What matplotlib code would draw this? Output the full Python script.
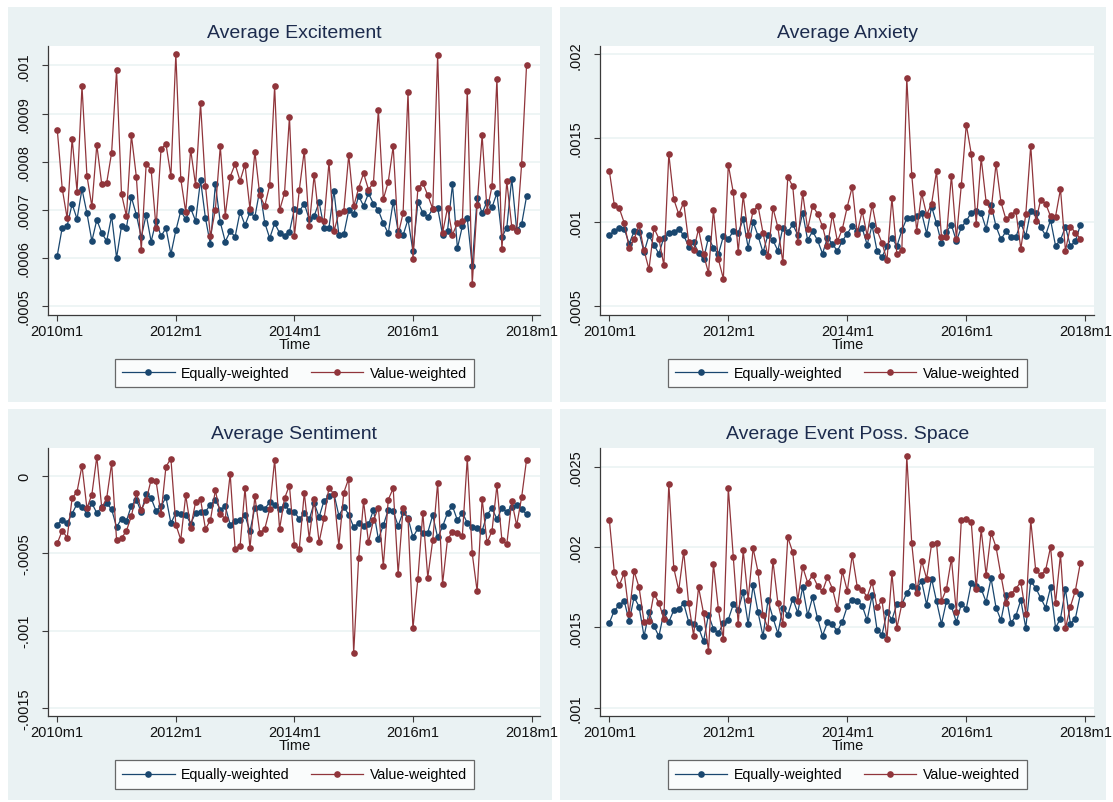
import matplotlib
matplotlib.use("Agg")
import matplotlib.pyplot as plt
from matplotlib.patches import Rectangle
from matplotlib.lines import Line2D
import numpy as np

plt.rcParams['font.family'] = ['Liberation Sans', 'DejaVu Sans']

# ---------------- data (monthly, 2010m1 .. 2017m12); values in units of 1e-4 ----------------
UNIT = 1e-4
tick_labels_x = ["2010m1", "2012m1", "2014m1", "2016m1", "2018m1"]
tick_months_x = [0, 24, 48, 72, 96]

exc_eq = [6.05, 6.63, 6.67, 7.12, 6.81, 7.43, 6.93, 6.35, 6.79, 6.52, 6.35, 6.87, 6.00, 6.66, 6.63, 7.26,
          6.90, 6.43, 6.90, 6.34, 6.77, 6.45, 6.62, 6.08, 6.57, 6.98, 6.80, 7.03, 6.77, 7.62, 6.82, 6.28,
          7.53, 6.74, 6.34, 6.55, 6.44, 6.96, 6.68, 6.95, 6.85, 7.42, 6.73, 6.41, 6.72, 6.52, 6.46, 6.54,
          7.02, 6.97, 7.13, 6.80, 6.87, 7.16, 6.63, 6.63, 7.40, 6.48, 6.49, 6.99, 6.91, 7.29, 7.08, 7.34,
          7.13, 6.99, 6.72, 6.51, 7.17, 6.55, 6.47, 6.80, 6.14, 7.16, 6.94, 6.85, 7.02, 7.04, 6.48, 6.56,
          7.53, 6.20, 6.66, 6.82, 5.84, 7.25, 6.93, 7.17, 7.05, 7.35, 6.43, 6.63, 7.65, 6.58, 6.70, 7.28]
exc_vw = [8.66, 7.44, 6.82, 8.48, 7.38, 9.57, 7.71, 7.07, 8.35, 7.53, 7.56, 8.19, 9.90, 7.33, 6.87, 8.55,
          7.69, 6.16, 7.96, 7.83, 6.62, 8.26, 8.37, 7.70, 10.24, 7.64, 6.95, 8.25, 7.51, 9.21, 7.50, 6.45,
          7.00, 8.32, 6.88, 7.69, 7.95, 7.60, 7.94, 7.02, 8.21, 7.30, 7.08, 7.51, 9.57, 6.99, 7.35, 8.93,
          6.45, 7.42, 8.23, 6.66, 7.72, 6.80, 6.76, 7.99, 6.55, 6.93, 6.97, 8.14, 7.07, 7.45, 7.76, 7.42,
          7.56, 9.07, 7.22, 7.58, 8.32, 6.48, 6.93, 9.44, 5.97, 7.45, 7.56, 7.30, 7.02, 10.22, 6.52, 7.04,
          6.48, 6.73, 6.77, 9.47, 5.45, 7.11, 8.55, 6.98, 7.49, 9.72, 6.18, 7.59, 6.65, 6.55, 7.95, 10.01]

anx_eq = [9.24, 9.43, 9.65, 9.59, 8.70, 9.43, 9.39, 8.18, 9.20, 8.62, 8.10, 9.06, 9.34, 9.42, 9.57, 9.20,
          8.52, 8.80, 8.12, 7.78, 9.06, 8.46, 8.06, 9.14, 8.98, 9.43, 9.36, 10.15, 8.46, 10.00, 9.16, 8.18,
          9.22, 8.90, 8.28, 9.65, 9.38, 9.85, 9.22, 10.53, 8.92, 9.43, 8.90, 8.10, 9.06, 8.68, 8.26, 8.86,
          9.30, 9.77, 9.47, 9.63, 8.64, 9.79, 8.26, 7.88, 8.58, 9.06, 8.54, 9.49, 10.21, 10.25, 10.35, 10.53,
          9.30, 10.91, 9.91, 8.72, 9.42, 9.81, 8.86, 9.67, 10.05, 10.55, 10.63, 10.53, 9.59, 11.03, 9.73, 8.96,
          9.43, 9.10, 9.10, 9.93, 9.16, 10.67, 10.53, 9.67, 9.20, 10.11, 8.58, 8.92, 9.71, 8.55, 8.85, 9.80]
anx_vw = [13.04, 11.01, 10.81, 9.95, 8.44, 8.96, 9.81, 8.30, 7.17, 9.63, 9.00, 7.41, 14.05, 11.35, 10.46, 11.15,
          8.82, 8.32, 9.57, 8.06, 6.95, 10.69, 7.76, 6.61, 13.41, 11.76, 8.20, 11.58, 9.24, 10.65, 10.95, 9.34,
          7.94, 10.83, 9.67, 7.58, 12.68, 12.12, 8.78, 11.72, 9.55, 10.95, 10.49, 9.73, 8.56, 10.43, 8.84, 9.57,
          10.91, 12.10, 9.30, 10.65, 9.18, 11.03, 9.49, 8.74, 7.72, 11.42, 8.08, 8.30, 18.57, 12.80, 9.45, 11.70,
          10.43, 11.07, 13.02, 9.10, 9.10, 12.76, 9.00, 12.20, 15.80, 14.07, 9.89, 13.81, 11.19, 10.65, 13.47, 11.17,
          10.15, 10.39, 10.67, 8.38, 10.45, 14.55, 10.03, 11.31, 11.09, 10.33, 10.31, 11.96, 8.28, 9.72, 9.36, 9.00]

sen_eq = [-3.16, -2.84, -3.05, -2.45, -1.82, -2.02, -2.45, -1.78, -2.41, -2.04, -1.78, -2.17, -3.33, -2.77, -2.92, -1.93,
          -1.55, -2.36, -1.18, -1.46, -2.28, -1.98, -1.40, -3.07, -2.41, -2.47, -2.51, -3.09, -2.41, -2.36, -2.32, -1.87,
          -1.59, -2.19, -1.98, -3.16, -2.90, -2.88, -2.56, -3.59, -2.06, -2.04, -2.15, -1.70, -1.87, -2.15, -1.87, -2.27,
          -2.34, -2.81, -2.40, -2.83, -1.76, -2.68, -1.61, -1.33, -1.16, -2.58, -2.02, -2.51, -3.33, -3.05, -3.28, -3.15,
          -2.21, -4.10, -3.20, -2.21, -2.30, -3.24, -2.36, -2.73, -3.97, -3.41, -3.73, -3.67, -2.55, -3.99, -3.28, -2.40,
          -1.97, -2.88, -2.40, -3.05, -3.30, -3.39, -3.56, -2.51, -2.12, -2.79, -2.12, -2.32, -2.00, -1.90, -2.15, -2.50]
sen_vw = [-4.36, -3.55, -4.00, -1.46, -1.03, 0.64, -2.11, -1.22, 1.22, -2.08, -1.46, 0.80, -4.15, -4.04, -3.55, -2.62,
          -1.12, -2.19, -1.57, -0.26, -0.37, -2.49, 0.58, 1.10, -3.16, -4.13, -1.27, -3.35, -1.70, -1.53, -3.44, -2.88,
          -0.95, -2.47, -2.79, 0.11, -4.73, -4.56, -0.82, -4.69, -1.33, -3.70, -3.44, -2.17, 1.01, -3.44, -1.46, -0.64,
          -4.49, -4.70, -1.09, -4.06, -1.48, -4.29, -2.75, -0.77, -1.20, -4.53, -1.09, -0.19, -11.46, -5.34, -1.65, -4.31,
          -2.88, -2.06, -5.82, -1.55, -0.82, -6.33, -2.12, -2.81, -9.85, -6.65, -2.38, -6.57, -4.18, -0.47, -6.97, -4.10,
          -3.65, -3.69, -3.88, 1.12, -5.02, -7.47, -1.48, -4.31, -3.58, -0.62, -4.14, -4.42, -1.65, -3.21, -1.40, 1.03]

evt_eq = [15.27, 16.04, 16.37, 16.64, 15.39, 16.87, 16.29, 14.44, 15.93, 15.08, 14.44, 15.93, 15.33, 16.06, 16.14, 16.49,
          15.35, 15.21, 14.98, 14.13, 15.79, 14.90, 14.65, 15.25, 15.48, 16.43, 16.08, 17.20, 15.21, 17.61, 15.93, 14.44,
          16.68, 15.60, 14.61, 16.22, 15.77, 16.78, 15.91, 17.49, 15.75, 16.87, 15.56, 14.48, 15.31, 15.19, 14.75, 15.35,
          16.31, 16.72, 16.66, 16.35, 15.44, 16.99, 14.85, 14.54, 15.95, 15.48, 16.43, 16.43, 17.14, 17.59, 17.43, 17.86,
          16.41, 18.03, 16.62, 15.21, 16.62, 16.31, 15.33, 16.45, 16.16, 17.74, 17.55, 17.39, 16.58, 18.05, 16.22, 15.44,
          16.99, 15.27, 15.71, 16.70, 14.96, 17.88, 17.45, 16.83, 16.22, 17.49, 14.98, 15.54, 17.37, 15.23, 15.54, 17.05]
evt_vw = [21.70, 18.44, 17.61, 18.38, 15.81, 18.49, 17.49, 15.35, 15.41, 17.10, 16.51, 15.54, 23.94, 18.69, 17.30, 19.71,
          16.49, 14.48, 17.49, 15.89, 13.55, 18.94, 16.12, 14.27, 23.67, 19.38, 15.19, 19.79, 16.72, 19.92, 18.44, 15.75,
          14.96, 19.13, 16.51, 15.23, 20.60, 19.67, 16.66, 18.76, 17.78, 18.24, 17.59, 17.24, 18.13, 17.41, 16.14, 18.49,
          17.26, 19.50, 17.53, 17.34, 16.89, 17.82, 16.24, 16.68, 14.27, 18.36, 14.96, 16.45, 25.64, 20.23, 17.16, 19.13,
          18.03, 20.17, 20.25, 16.64, 17.39, 19.27, 15.93, 21.68, 21.76, 21.56, 17.41, 21.10, 18.26, 20.89, 20.00, 18.22,
          16.54, 17.07, 17.41, 17.82, 15.85, 21.66, 18.55, 18.26, 18.55, 20.00, 16.49, 19.54, 14.94, 16.29, 17.28, 19.00]

titles = ["Average Excitement", "Average Anxiety", "Average Sentiment", "Average Event Poss. Space"]
ytick_vals = [[0.0005, 0.0006, 0.0007, 0.0008, 0.0009, 0.001],
              [0.0005, 0.001, 0.0015, 0.002],
              [-0.0015, -0.001, -0.0005, 0.0],
              [0.001, 0.0015, 0.002, 0.0025]]
ytick_labels = [[".0005", ".0006", ".0007", ".0008", ".0009", ".001"],
                [".0005", ".001", ".0015", ".002"],
                ["-.0015", "-.001", "-.0005", "0"],
                [".001", ".0015", ".002", ".0025"]]
series = [(exc_eq, exc_vw), (anx_eq, anx_vw), (sen_eq, sen_vw), (evt_eq, evt_vw)]
legend_labels = ["Equally-weighted", "Value-weighted"]

# ---------------- layout ----------------
W, H = 1113, 803
fig = plt.figure(figsize=(W / 100, H / 100), dpi=100)
fig.patch.set_facecolor("white")

BG = "#eaf2f3"
NAVY = "#1a476f"
MAROON = "#90353b"
AXC = "#3a3a3a"
TITLEC = "#1c2b4d"

def frect(x0, y0, x1, y1):
    return [x0 / W, 1 - y1 / H, (x1 - x0) / W, (y1 - y0) / H]

panel_bg = [(8, 8, 552, 403), (560, 8, 1106, 403), (8, 410, 552, 801), (560, 410, 1106, 801)]
axes_px = [(48.4, 46.7, 540.4, 315.7), (600.4, 46.7, 1094.2, 315.7),
           (48.4, 449, 540.4, 717), (600.4, 449, 1094.2, 717)]
ylims = [(0.000482, 0.001041), (0.000446, 0.002051), (-0.00155, 0.000178), (0.000948, 0.002616)]

for (x0, y0, x1, y1) in panel_bg:
    fig.patches.append(Rectangle((x0 / W, 1 - y1 / H), (x1 - x0) / W, (y1 - y0) / H,
                                 transform=fig.transFigure, facecolor=BG, edgecolor="none", zorder=-10))

months = np.arange(len(exc_eq))

for k in range(4):
    x0, y0, x1, y1 = axes_px[k]
    ax = fig.add_axes(frect(x0, y0, x1, y1))
    ax.set_zorder(1)
    ax.set_facecolor("white")
    eq, vw = series[k]
    ax.plot(months, np.array(eq) * UNIT, color=NAVY, lw=0.9, marker="o", ms=4.8, mew=0, zorder=3)
    ax.plot(months, np.array(vw) * UNIT, color=MAROON, lw=0.9, marker="o", ms=4.8, mew=0, zorder=4)
    ax.set_xlim(-1.8, 97.8)
    ax.set_ylim(*ylims[k])
    ax.set_xticks(tick_months_x)
    ax.set_xticklabels(tick_labels_x, fontsize=10.5, color="#111111")
    ax.set_yticks(ytick_vals[k])
    ax.set_yticklabels(ytick_labels[k], fontsize=10.5, color="#111111", rotation=90, va="center")
    ax.tick_params(axis="both", direction="out", length=4.5, width=0.8, color=AXC)
    ax.tick_params(axis="x", pad=2.0)
    ax.tick_params(axis="y", pad=8)
    ax.grid(axis="y", color=BG, lw=1.1, zorder=0)
    ax.set_axisbelow(True)
    for s in ["top", "right"]:
        ax.spines[s].set_visible(False)
    for s in ["left", "bottom"]:
        ax.spines[s].set_color(AXC)
        ax.spines[s].set_linewidth(0.9)

    cx = (x0 + x1) / 2
    top = 8 if k < 2 else 410
    fig.text(cx / W, 1 - (top + 25) / H, titles[k], ha="center", va="center", fontsize=14, color=TITLEC)
    fig.text(cx / W, 1 - (y1 + 29.5) / H, "Time", ha="center", va="center", fontsize=10.5, color="#111111")

    handles = [Line2D([0], [0], color=NAVY, lw=0.9, marker="o", ms=4.8, mew=0),
               Line2D([0], [0], color=MAROON, lw=0.9, marker="o", ms=4.8, mew=0)]
    lcx = cx
    lcy = y1 + 58.5
    leg = ax.legend(handles, legend_labels, loc="center", bbox_to_anchor=(lcx / W, 1 - lcy / H),
                    bbox_transform=fig.transFigure, ncol=2, frameon=True, fancybox=False,
                    fontsize=10.2, handlelength=3.7, handletextpad=0.45, columnspacing=1.5,
                    borderpad=0.5, numpoints=1)
    leg.get_frame().set_edgecolor("#444444")
    leg.get_frame().set_linewidth(0.9)
    leg.get_frame().set_facecolor("white")

fig.savefig("out.png", dpi=100, facecolor="white")
